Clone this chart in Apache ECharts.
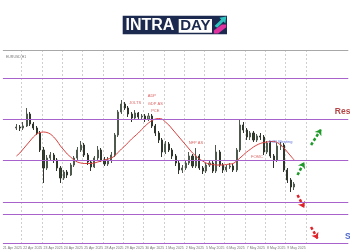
<!DOCTYPE html>
<html><head><meta charset="utf-8">
<script src="https://cdn.jsdelivr.net/npm/echarts@6/dist/echarts.min.js"></script>
<style>html,body{margin:0;padding:0;background:#fff}#c{width:350px;height:250px}</style>
</head><body><div id="c"></div>
<script>
// ---- data ----
const tickLabels = ['21 Apr 2025','22 Apr 2025','23 Apr 2025','24 Apr 2025','25 Apr 2025','28 Apr 2025','29 Apr 2025','30 Apr 2025','1 May 2025','2 May 2025','5 May 2025','6 May 2025','7 May 2025','8 May 2025','9 May 2025'];
const tickStep = 6;
const lastGridTick = 90;
const categoryCount = 103;
const firstIndex = 4;
// [open, close, low, high]
const candles = [
[1.1430,1.1432,1.1426,1.1438],[1.1432,1.1430,1.1424,1.1436],[1.1430,1.1434,1.1426,1.1442],[1.1434,1.1458,1.1432,1.1470],
[1.1458,1.1438,1.1434,1.1462],[1.1438,1.1430,1.1426,1.1442],[1.1430,1.1420,1.1416,1.1434],[1.1420,1.1386,1.1382,1.1424],
[1.1386,1.1350,1.1320,1.1392],[1.1350,1.1370,1.1346,1.1376],[1.1370,1.1376,1.1366,1.1382],[1.1376,1.1366,1.1360,1.1380],
[1.1366,1.1350,1.1344,1.1370],[1.1350,1.1330,1.1320,1.1354],[1.1330,1.1342,1.1326,1.1346],[1.1342,1.1336,1.1330,1.1346],
[1.1336,1.1356,1.1334,1.1360],[1.1356,1.1370,1.1352,1.1374],[1.1370,1.1386,1.1366,1.1392],[1.1386,1.1396,1.1382,1.1404],
[1.1396,1.1376,1.1372,1.1400],[1.1376,1.1362,1.1356,1.1380],[1.1362,1.1352,1.1344,1.1366],[1.1352,1.1370,1.1350,1.1374],
[1.1370,1.1386,1.1366,1.1394],[1.1386,1.1366,1.1362,1.1390],[1.1366,1.1358,1.1354,1.1372],[1.1358,1.1366,1.1354,1.1372],
[1.1366,1.1376,1.1360,1.1382],[1.1376,1.1416,1.1372,1.1420],[1.1416,1.1462,1.1412,1.1466],[1.1462,1.1478,1.1458,1.1486],
[1.1478,1.1470,1.1466,1.1482],[1.1470,1.1458,1.1452,1.1474],[1.1458,1.1450,1.1442,1.1462],[1.1450,1.1460,1.1446,1.1466],
[1.1460,1.1452,1.1446,1.1462],[1.1452,1.1454,1.1446,1.1458],[1.1454,1.1448,1.1442,1.1458],[1.1448,1.1454,1.1444,1.1460],
[1.1454,1.1434,1.1430,1.1458],[1.1434,1.1420,1.1414,1.1438],[1.1420,1.1406,1.1400,1.1424],[1.1406,1.1382,1.1372,1.1410],
[1.1382,1.1398,1.1378,1.1404],[1.1398,1.1386,1.1382,1.1402],[1.1386,1.1374,1.1368,1.1390],[1.1374,1.1360,1.1354,1.1378],
[1.1360,1.1346,1.1338,1.1364],[1.1346,1.1350,1.1340,1.1356],[1.1350,1.1360,1.1346,1.1366],[1.1360,1.1374,1.1356,1.1382],
[1.1374,1.1354,1.1350,1.1378],[1.1354,1.1374,1.1350,1.1390],[1.1374,1.1350,1.1346,1.1378],[1.1350,1.1344,1.1338,1.1354],
[1.1344,1.1356,1.1340,1.1360],[1.1356,1.1360,1.1352,1.1366],[1.1360,1.1344,1.1340,1.1364],[1.1344,1.1382,1.1340,1.1396],
[1.1382,1.1356,1.1352,1.1386],[1.1356,1.1346,1.1340,1.1360],[1.1346,1.1352,1.1342,1.1356],[1.1352,1.1354,1.1348,1.1360],
[1.1354,1.1346,1.1342,1.1358],[1.1346,1.1386,1.1342,1.1390],[1.1386,1.1436,1.1382,1.1446],[1.1436,1.1426,1.1420,1.1442],
[1.1426,1.1412,1.1406,1.1430],[1.1412,1.1420,1.1406,1.1424],[1.1420,1.1406,1.1402,1.1424],[1.1406,1.1414,1.1402,1.1418],
[1.1414,1.1412,1.1406,1.1420],[1.1412,1.1382,1.1376,1.1416],[1.1382,1.1400,1.1378,1.1404],[1.1400,1.1374,1.1370,1.1404],
[1.1374,1.1366,1.1350,1.1378],[1.1366,1.1394,1.1362,1.1400],[1.1394,1.1396,1.1386,1.1402],[1.1396,1.1346,1.1342,1.1400],
[1.1346,1.1326,1.1320,1.1350],[1.1326,1.1312,1.1302,1.1330],[1.1312,1.1318,1.1306,1.1322]
];
const movingAverage = [
1.1374,1.1380,1.1388,1.1396,1.1404,1.1412,1.1418,1.1421,1.1422,1.1421,
1.1418,1.1412,1.1404,1.1394,1.1386,1.1378,1.1372,1.1366,1.1362,1.1360,
1.1359,1.1359,1.1359,1.1360,1.1362,1.1364,1.1366,1.1368,1.1370,1.1374,
1.1381,1.1388,1.1394,1.1401,1.1408,1.1414,1.1420,1.1427,1.1434,1.1440,
1.1445,1.1448,1.1449,1.1448,1.1442,1.1436,1.1428,1.1420,1.1412,1.1404,
1.1396,1.1388,1.1380,1.1374,1.1368,1.1364,1.1360,1.1358,1.1357,1.1356,
1.1356,1.1356,1.1357,1.1358,1.1359,1.1364,1.1370,1.1376,1.1382,1.1387,
1.1392,1.1396,1.1399,1.1401,1.1402,1.1403,1.1403,1.1401,1.1396,1.1390,
1.1382,1.1374,1.1366
];
const levels = [1.1530, 1.1448, 1.1366, 1.1282, 1.1258, 1.1200];
const chartTop = 1.1586;
const eventNames = ['JOLTS','ADP','GDP AS','PCE','NFP AS','FOMC','ECB Meeting'];
const eventIndex = [39.13, 44.43, 44.57, 44.57, 57.13, 74.71, 82.25];
const eventPrice = [1.1480, 1.1494, 1.1478, 1.1464, 1.1400, 1.1372, 1.1403];
const zoneNames = ['Resistance','Support'];
const zoneIndex = [98.43, 100.9];
const zonePrice = [1.1462, 1.1212];
const upArrows = [[[87.0,1.1336],[88.9,1.1362]], [[91.2,1.1396],[94.0,1.1428]]];
const downArrows = [[[87.3,1.1296],[89.2,1.1270]], [[91.2,1.1232],[93.1,1.1208]]];

// ---- build ----
const categories = [];
for (let i = 0; i < categoryCount; i++) {
  categories.push(i % tickStep === 0 && tickLabels[i / tickStep] ? tickLabels[i / tickStep] : '');
}
const pad = [];
for (let i = 0; i < firstIndex; i++) pad.push('-');
const candleData = pad.concat(candles);
const maData = pad.concat(movingAverage);

const PURPLE = '#a862cc';
const hLine = (v, color) => [
  { coord: [0, v], symbol: 'none', lineStyle: { color: color, width: 1, type: 'solid' } },
  { coord: [categoryCount - 1, v], symbol: 'none', lineStyle: { color: color, width: 1, type: 'solid' } }
];
const levelLines = levels.map(v => hLine(v, PURPLE)).concat([hLine(chartTop - 0.0001, '#a8a8a8')]);
const arrowLine = (seg, color) => [
  { coord: seg[0], symbol: 'none', lineStyle: { color: color, width: 2.5, type: [3, 2] } },
  { coord: seg[1], symbol: 'arrow', symbolSize: 6, lineStyle: { color: color, width: 2.5, type: [3, 2] } }
];
const arrows = upArrows.map(s => arrowLine(s, '#1f9a2a')).concat(downArrows.map(s => arrowLine(s, '#e0232a')));

const eventData = eventNames.map((n, k) => ({
  name: n, value: [eventIndex[k], eventPrice[k]],
  label: { color: n === 'ECB Meeting' ? '#3a4fd0' : '#d23a3a' }
}));
const zoneData = zoneNames.map((n, k) => ({
  name: n, value: [zoneIndex[k], zonePrice[k]],
  label: { color: n === 'Support' ? '#1e3fc0' : '#a31515' }
}));

const chart = echarts.init(document.getElementById('c'), null, { renderer: 'canvas' });
const NAVY = '#1b2a4e';
chart.setOption({
  animation: false,
  backgroundColor: '#ffffff',
  title: { text: 'EURUSD,H1', left: 1, top: 50, textStyle: { fontSize: 3.5, color: '#777', fontWeight: 'normal' } },
  graphic: [
    { type: 'rect', shape: { x: 122.7, y: 15.7, width: 104.3, height: 18.6 }, style: { fill: NAVY } },
    { type: 'text', x: 125.5, y: 25.2, style: { text: 'INTRA', fill: '#ffffff', font: 'bold 16px "Liberation Sans", Arial, sans-serif', textVerticalAlign: 'middle' } },
    { type: 'rect', shape: { x: 178.7, y: 19, width: 33.3, height: 13.7 }, style: { fill: '#ffffff' } },
    { type: 'text', x: 195.4, y: 26, style: { text: 'DAY', fill: NAVY, font: 'bold 15px "Liberation Sans", Arial, sans-serif', textAlign: 'center', textVerticalAlign: 'middle' } },
    { type: 'polygon', shape: { points: [[214.5,26],[221.2,19.6],[219.4,17.8],[226.3,16.6],[225.3,23.4],[223.5,21.6],[217.2,27.8]] }, style: { fill: '#2fc3c0' } },
    { type: 'polygon', shape: { points: [[213.8,33.4],[213.8,30.6],[221.8,24.6],[226.2,24.6],[226.2,27.2],[218.2,33.4]] }, style: { fill: '#e0329e' } }
  ],
  grid: { left: -16.5, top: 50, width: 369.08, height: 194, show: false },
  xAxis: {
    type: 'category', data: categories, boundaryGap: true,
    axisLine: { show: false, onZero: false }, axisTick: { show: false },
    axisLabel: {
      interval: (i) => i % tickStep === 0 && i <= 84,
      fontSize: 3.5, color: '#777', margin: 2, align: 'left'
    },
    splitLine: {
      show: true,
      interval: (i) => i % tickStep === 0 && i >= tickStep && i <= lastGridTick,
      lineStyle: { color: '#cfcfcf', width: 1, type: [2, 2] }
    }
  },
  yAxis: {
    type: 'value', min: 1.1198, max: chartTop,
    axisLine: { show: false, onZero: false }, axisTick: { show: false }, axisLabel: { show: false },
    splitLine: { show: false, lineStyle: { color: 'transparent' } },
    splitArea: { show: false }
  },
  series: [
    {
      type: 'candlestick', name: 'Price', data: candleData, barWidth: 1.6,
      itemStyle: { color: '#9aa79a', color0: '#36402f', borderColor: '#4d5a4d', borderColor0: '#2e362b', borderWidth: 1 },
      z: 2
    },
    {
      type: 'line', name: 'MA', data: maData, smooth: 0.3, showSymbol: false,
      lineStyle: { color: '#d9413f', width: 1 },
      markLine: {
        silent: true, symbol: ['none', 'none'], label: { show: false },
        data: arrows
      },
      z: 3
    },
    {
      type: 'scatter', name: 'Events', data: eventData, symbolSize: 0,
      label: { show: true, formatter: '{b}', position: 'inside', fontSize: 4, fontFamily: '"Liberation Sans", Arial, sans-serif' },
      markLine: {
        silent: true, symbol: ['none', 'none'], label: { show: false },
        lineStyle: { color: PURPLE, width: 1, type: 'solid' },
        data: levelLines
      },
      z: 4
    },
    {
      type: 'scatter', name: 'Zones', data: zoneData, symbolSize: 0,
      label: { show: true, formatter: '{b}', position: 'right', distance: 0, fontSize: 8.5, fontWeight: 'bold', fontFamily: '"Liberation Sans", Arial, sans-serif' },
      z: 4
    }
  ]
});
</script>
</body></html>
